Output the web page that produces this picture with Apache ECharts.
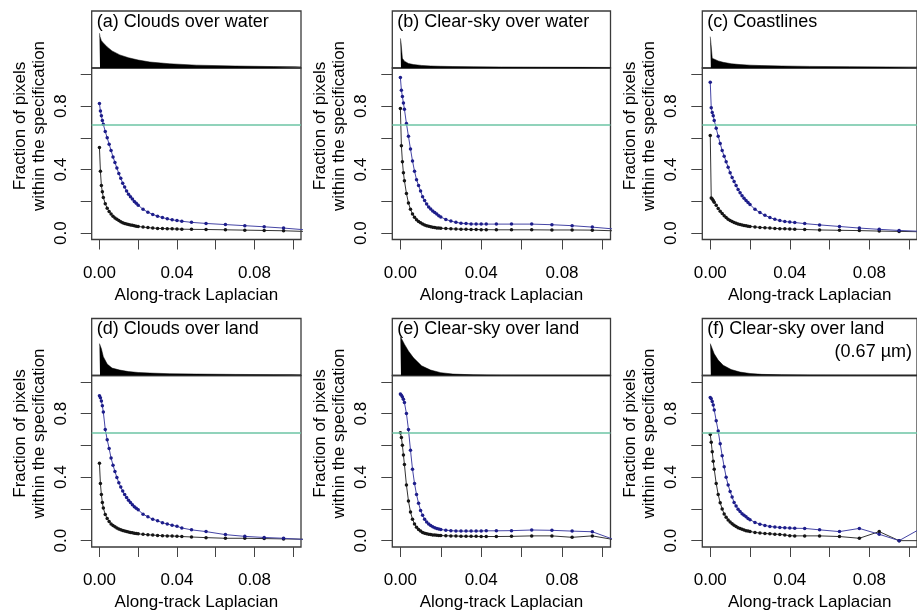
<!DOCTYPE html>
<html>
<head>
<meta charset="utf-8">
<script src="https://cdn.jsdelivr.net/npm/echarts@6/dist/echarts.min.js"></script>
<style>
  html, body { margin: 0; padding: 0; background: #fff; }
  #main { width: 917px; height: 612px; }
</style>
</head>
<body>
<div id="main"></div>
<script>
// x positions of the points (along-track laplacian)
var lapX = [0, 0.0005, 0.001, 0.0015, 0.002, 0.003, 0.004, 0.005, 0.006, 0.007, 0.008, 0.009, 0.01,
  0.011, 0.012, 0.013, 0.014, 0.015, 0.016, 0.017, 0.018, 0.019, 0.02, 0.0225, 0.025, 0.0275, 0.03,
  0.0325, 0.035, 0.0375, 0.04, 0.0425, 0.0475, 0.055, 0.065, 0.075, 0.085, 0.095, 0.105];

// (a) clouds over water
var blueA = [0.817, 0.77, 0.74, 0.71, 0.685, 0.64, 0.60, 0.56, 0.52, 0.48, 0.445, 0.41, 0.375, 0.345, 0.315, 0.29, 0.265, 0.245, 0.23, 0.215, 0.2, 0.188, 0.176, 0.15, 0.132, 0.118, 0.107, 0.098, 0.09, 0.084, 0.079, 0.075, 0.068, 0.061, 0.054, 0.047, 0.04, 0.032, 0.022];
var blackA = [0.54, 0.39, 0.30, 0.26, 0.225, 0.185, 0.157, 0.137, 0.12, 0.107, 0.096, 0.087, 0.079, 0.072, 0.066, 0.061, 0.057, 0.054, 0.051, 0.049, 0.046, 0.044, 0.042, 0.038, 0.035, 0.032, 0.03, 0.029, 0.028, 0.027, 0.026, 0.025, 0.024, 0.023, 0.021, 0.019, 0.017, 0.015, 0.011];
// (b) clear-sky over water
var blueB = [0.98, 0.90, 0.86, 0.82, 0.78, 0.69, 0.61, 0.53, 0.455, 0.39, 0.337, 0.3, 0.265, 0.23, 0.205, 0.183, 0.165, 0.152, 0.14, 0.13, 0.12, 0.11, 0.102, 0.086, 0.076, 0.068, 0.063, 0.06, 0.058, 0.057, 0.057, 0.057, 0.057, 0.057, 0.057, 0.053, 0.047, 0.038, 0.027];
var blackB = [0.785, 0.55, 0.45, 0.38, 0.33, 0.25, 0.19, 0.15, 0.12, 0.10, 0.085, 0.074, 0.066, 0.058, 0.052, 0.047, 0.043, 0.04, 0.037, 0.035, 0.033, 0.032, 0.031, 0.029, 0.027, 0.026, 0.025, 0.024, 0.023, 0.023, 0.022, 0.022, 0.021, 0.021, 0.021, 0.02, 0.02, 0.019, 0.015];
// (c) coastlines
var blueC = [0.95, 0.79, 0.76, 0.74, 0.71, 0.66, 0.61, 0.565, 0.52, 0.485, 0.45, 0.415, 0.38, 0.35, 0.325, 0.30, 0.275, 0.255, 0.235, 0.22, 0.205, 0.193, 0.18, 0.15, 0.13, 0.112, 0.098, 0.087, 0.079, 0.073, 0.07, 0.067, 0.06, 0.052, 0.042, 0.032, 0.024, 0.017, 0.012];
var blackC = [0.615, 0.222, 0.215, 0.205, 0.195, 0.175, 0.155, 0.138, 0.124, 0.11, 0.098, 0.088, 0.08, 0.073, 0.067, 0.062, 0.058, 0.054, 0.051, 0.048, 0.046, 0.044, 0.042, 0.039, 0.036, 0.034, 0.032, 0.03, 0.028, 0.027, 0.026, 0.025, 0.023, 0.02, 0.018, 0.016, 0.013, 0.011, 0.009];
// (d) clouds over land
var blueD = [0.913, 0.90, 0.88, 0.85, 0.81, 0.70, 0.635, 0.58, 0.52, 0.475, 0.435, 0.398, 0.365, 0.338, 0.312, 0.29, 0.272, 0.255, 0.24, 0.226, 0.214, 0.204, 0.195, 0.167, 0.15, 0.135, 0.125, 0.113, 0.105, 0.097, 0.09, 0.08, 0.068, 0.057, 0.038, 0.027, 0.02, 0.015, 0.008];
var blackD = [0.487, 0.36, 0.29, 0.24, 0.205, 0.165, 0.14, 0.12, 0.105, 0.095, 0.087, 0.08, 0.074, 0.069, 0.064, 0.06, 0.057, 0.054, 0.052, 0.05, 0.047, 0.045, 0.043, 0.04, 0.037, 0.035, 0.033, 0.031, 0.03, 0.029, 0.028, 0.026, 0.023, 0.019, 0.015, 0.015, 0.013, 0.011, 0.009];
// (e) clear-sky over land
var blueE = [0.923, 0.915, 0.905, 0.89, 0.87, 0.80, 0.70, 0.57, 0.45, 0.36, 0.29, 0.235, 0.19, 0.16, 0.135, 0.118, 0.105, 0.095, 0.088, 0.082, 0.077, 0.073, 0.07, 0.066, 0.063, 0.061, 0.06, 0.06, 0.06, 0.06, 0.061, 0.062, 0.062, 0.063, 0.067, 0.065, 0.06, 0.056, 0.01];
var blackE = [0.679, 0.65, 0.60, 0.54, 0.48, 0.35, 0.25, 0.18, 0.135, 0.105, 0.085, 0.07, 0.06, 0.052, 0.047, 0.043, 0.04, 0.038, 0.036, 0.035, 0.034, 0.033, 0.032, 0.031, 0.03, 0.029, 0.028, 0.028, 0.027, 0.027, 0.026, 0.026, 0.026, 0.027, 0.03, 0.03, 0.021, 0.03, 0.008];
// (f) clear-sky over land, 0.67 um
var blueF = [0.902, 0.894, 0.877, 0.855, 0.823, 0.755, 0.69, 0.61, 0.535, 0.465, 0.40, 0.35, 0.31, 0.275, 0.24, 0.218, 0.198, 0.183, 0.17, 0.16, 0.15, 0.14, 0.132, 0.115, 0.104, 0.096, 0.089, 0.086, 0.083, 0.081, 0.079, 0.078, 0.077, 0.068, 0.057, 0.077, 0.04, 0.0, 0.07];
var blackF = [0.668, 0.62, 0.56, 0.50, 0.45, 0.36, 0.29, 0.238, 0.2, 0.168, 0.148, 0.13, 0.118, 0.106, 0.097, 0.089, 0.082, 0.076, 0.071, 0.067, 0.063, 0.06, 0.057, 0.052, 0.048, 0.045, 0.043, 0.041, 0.039, 0.036, 0.031, 0.03, 0.03, 0.03, 0.026, 0.015, 0.057, 0.0, 0.0];

// histograms on top (relative height)
var histX = [0, 0.0003, 0.001, 0.002, 0.004, 0.0065, 0.0105, 0.015, 0.02, 0.026, 0.036, 0.05, 0.07, 0.09, 0.104];
var histA = [0.61, 0.55, 0.48, 0.44, 0.37, 0.30, 0.23, 0.18, 0.14, 0.105, 0.075, 0.05, 0.035, 0.025, 0.02];
var histB = [0.52, 0.45, 0.17, 0.12, 0.08, 0.06, 0.045, 0.035, 0.03, 0.026, 0.022, 0.018, 0.015, 0.012, 0.01];
var histC = [0.55, 0.45, 0.17, 0.15, 0.125, 0.1, 0.075, 0.06, 0.05, 0.042, 0.035, 0.028, 0.023, 0.019, 0.017];
var histD = [0.56, 0.53, 0.47, 0.33, 0.2, 0.13, 0.095, 0.068, 0.053, 0.043, 0.032, 0.025, 0.019, 0.015, 0.013];
var histE = [0.68, 0.66, 0.62, 0.55, 0.43, 0.31, 0.17, 0.095, 0.05, 0.025, 0.012, 0.006, 0.004, 0.003, 0.003];
var histF = [0.56, 0.53, 0.47, 0.38, 0.27, 0.18, 0.105, 0.06, 0.035, 0.02, 0.012, 0.008, 0.006, 0.005, 0.005];

// ticks and labels
var xTicks = [0, 0.02, 0.04, 0.06, 0.08, 0.1];
var xLabels = [0, 0.04, 0.08];
var yTicks = [0, 0.2, 0.4, 0.6, 0.8, 1.0];
var yLabels = [0, 0.4, 0.8];
var specLevel = 0.6827;

var panels = [
  {title: '(a) Clouds over water', hist: histA, blue: blueA, black: blackA, left: 91.7, width: 209.3, top: 11},
  {title: '(b) Clear-sky over water', hist: histB, blue: blueB, black: blackB, left: 392.3, width: 218.2, top: 11},
  {title: '(c) Coastlines', hist: histC, blue: blueC, black: blackC, left: 702.3, width: 218.2, top: 11},
  {title: '(d) Clouds over land', hist: histD, blue: blueD, black: blackD, left: 91.7, width: 209.3, top: 318.5},
  {title: '(e) Clear-sky over land', hist: histE, blue: blueE, black: blackE, left: 392.3, width: 218.2, top: 318.5},
  {title: '(f) Clear-sky over land', hist: histF, blue: blueF, black: blackF, left: 702.3, width: 218.2, top: 318.5}
];

var FONT = 'Liberation Sans, Arial, sans-serif';
var HIST_H = 57, MAIN_H = 171.5;

var option = {
  animation: false,
  textStyle: {fontFamily: FONT},
  grid: [], xAxis: [], yAxis: [], series: [], title: [], graphic: []
};

function pairs(xs, ys) {
  return xs.map(function (x, k) { return [x, ys[k]]; });
}

panels.forEach(function (p, i) {
  var gh = 2 * i, gm = 2 * i + 1;

  option.grid.push({left: p.left, top: p.top, width: p.width, height: HIST_H,
    show: true, borderColor: '#3a3a3a', borderWidth: 1.3, backgroundColor: 'transparent'});
  option.grid.push({left: p.left, top: p.top + HIST_H, width: p.width, height: MAIN_H,
    show: true, borderColor: '#3a3a3a', borderWidth: 1.3, backgroundColor: 'transparent'});

  option.xAxis.push({type: 'value', gridIndex: gh, min: -0.004, max: 0.104, show: false});
  option.yAxis.push({type: 'value', gridIndex: gh, min: 0, max: 1, show: false});

  option.xAxis.push({
    type: 'value', gridIndex: gm, min: -0.004, max: 0.104,
    axisLine: {show: false, onZero: false},
    splitLine: {show: false},
    axisTick: {show: true, length: 10, customValues: xTicks, lineStyle: {color: '#444', width: 1}},
    axisLabel: {customValues: xLabels, margin: 25, fontSize: 17, color: '#000',
      formatter: function (v) { return v.toFixed(2); }},
    name: 'Along-track Laplacian', nameLocation: 'middle', nameGap: 47,
    nameTextStyle: {fontSize: 17, color: '#000'}
  });
  option.yAxis.push({
    type: 'value', gridIndex: gm, min: -0.04, max: 1.04,
    axisLine: {show: false, onZero: false},
    splitLine: {show: false},
    axisTick: {show: true, length: 11, customValues: yTicks, lineStyle: {color: '#444', width: 1}},
    axisLabel: {customValues: yLabels, rotate: 90, margin: 22, fontSize: 17, color: '#000',
      formatter: function (v) { return v.toFixed(1); }}
  });

  // histogram
  option.series.push({
    type: 'line', xAxisIndex: gh, yAxisIndex: gh, data: pairs(histX, p.hist),
    symbol: 'none', silent: true,
    lineStyle: {color: '#000', width: 0.5}, areaStyle: {color: '#000', opacity: 1}
  });
  // all pixels (black)
  option.series.push({
    type: 'line', xAxisIndex: gm, yAxisIndex: gm, data: pairs(lapX, p.black),
    symbol: 'circle', symbolSize: 3.5, silent: true,
    itemStyle: {color: '#151515'}, lineStyle: {color: '#333', width: 1}
  });
  // blue curve + spec line
  option.series.push({
    type: 'line', xAxisIndex: gm, yAxisIndex: gm, data: pairs(lapX, p.blue),
    symbol: 'circle', symbolSize: 3.5, silent: true,
    itemStyle: {color: '#1d1d8a'}, lineStyle: {color: '#4545a5', width: 1},
    markLine: {silent: true, symbol: ['none', 'none'], label: {show: false},
      lineStyle: {color: '#6cc4a4', width: 1.5, type: 'solid'},
      data: [{yAxis: specLevel}]}
  });

  option.title.push({text: p.title, left: p.left + 5, top: p.top + 2, padding: 0,
    textStyle: {fontSize: 18, fontWeight: 'normal', color: '#000', fontFamily: FONT}});

  option.graphic.push({
    type: 'text', x: p.left - 62, y: p.top + 115, rotation: Math.PI / 2,
    style: {text: 'Fraction of pixels\nwithin the specification', x: 0, y: 0,
      textAlign: 'center', textVerticalAlign: 'middle', lineHeight: 19,
      font: '17px ' + FONT, fill: '#000'}
  });
});

option.title.push({text: '(0.67 µm)', right: 5, top: 318.5 + 25, padding: 0,
  textStyle: {fontSize: 18, fontWeight: 'normal', color: '#000', fontFamily: FONT}});

var myChart = echarts.init(document.getElementById('main'));
myChart.setOption(option);
</script>
</body>
</html>
